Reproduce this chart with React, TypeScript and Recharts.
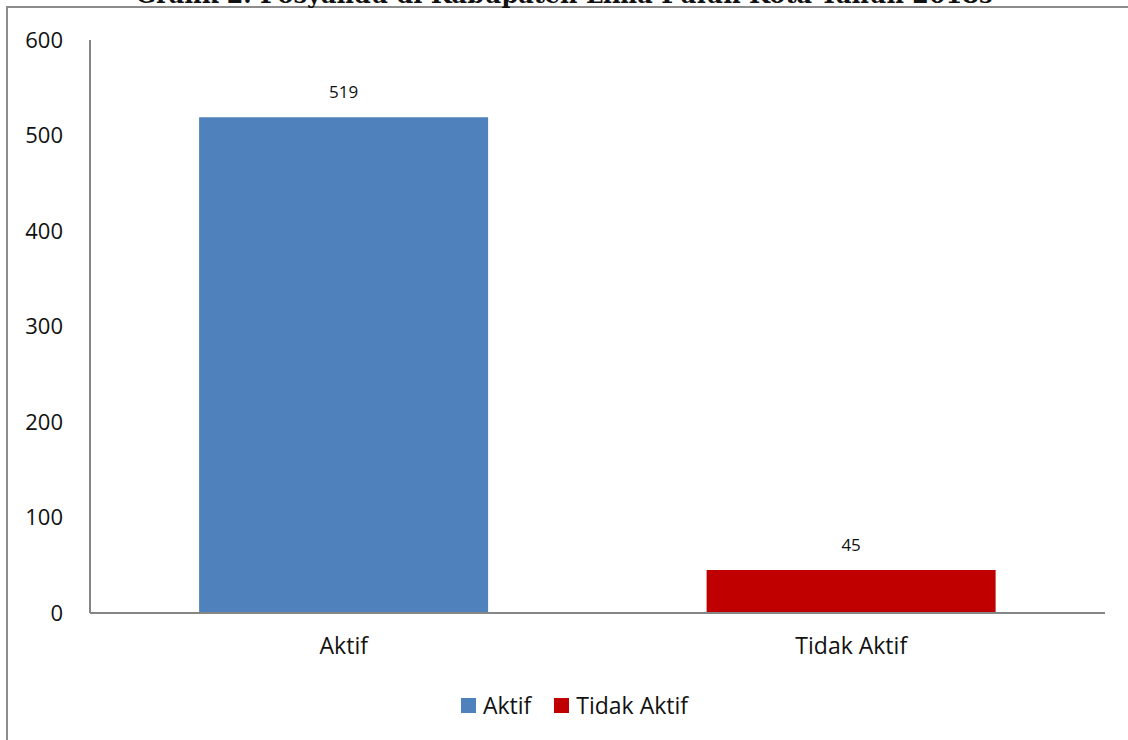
import React from "react";
import { BarChart, Bar, XAxis, YAxis, Legend, LabelList, Cell } from "recharts";

const categories = ["Aktif", "Tidak Aktif"];
const values = [519, 45];
const colors = ["#4F81BD", "#C00000"];
const yTicks = [0, 100, 200, 300, 400, 500, 600];

const data = categories.map((name, i) => ({ name, value: values[i] }));

const FONT = "'Open Sans', 'Noto Sans', sans-serif";

function renderLegend() {
  return (
    <div style={{ display: "flex", justifyContent: "center", alignItems: "center", height: 50, paddingLeft: 14, fontFamily: FONT, fontSize: 23, color: "#111" }}>
      {categories.map((c, i) => (
        <div key={c} style={{ display: "flex", alignItems: "center", marginRight: i === 0 ? 23 : 0 }}>
          <span style={{ width: 15, height: 15, background: colors[i], display: "inline-block", marginRight: 7 }} />
          <span>{c}</span>
        </div>
      ))}
    </div>
  );
}

export default function App() {
  return (
    <div style={{ position: "absolute", left: 0, top: 0, width: 1128, height: 740, overflow: "hidden", background: "#fff" }}>
      <div style={{ position: "absolute", left: 0, top: 0 }}>
        <BarChart width={1128} height={740} data={data} margin={{ top: 40, right: 23, left: 30, bottom: 10 }} barCategoryGap="21.5%">
          <XAxis
            dataKey="name"
            height={67}
            tickSize={0}
            tickMargin={25}
            axisLine={{ stroke: "#868686", strokeWidth: 2 }}
            tick={{ fill: "#111", fontSize: 23, fontFamily: FONT }}
          />
          <YAxis
            width={60}
            domain={[0, 600]}
            ticks={yTicks}
            tickSize={0}
            tickMargin={27}
            axisLine={{ stroke: "#868686", strokeWidth: 2 }}
            tick={{ fill: "#111", fontSize: 22, fontFamily: FONT }}
          />
          <Legend verticalAlign="bottom" height={50} content={renderLegend} />
          <Bar dataKey="value" isAnimationActive={false}>
            {data.map((d, i) => (
              <Cell key={d.name} fill={colors[i]} />
            ))}
            <LabelList dataKey="value" position="top" offset={19} style={{ fill: "#111", fontSize: 17, fontFamily: FONT }} />
          </Bar>
        </BarChart>
      </div>
      <div
        style={{
          position: "absolute",
          left: 6,
          top: 6,
          width: 1200,
          height: 800,
          borderLeft: "2px solid #8c8c8c",
          borderTop: "2px solid #8c8c8c",
          zIndex: 2,
          pointerEvents: "none",
        }}
      />
      <div
        style={{
          position: "absolute",
          top: -17,
          left: 0,
          width: 1128,
          textAlign: "center",
          fontFamily: "'DejaVu Serif', serif",
          fontWeight: "bold",
          fontSize: 24,
          lineHeight: "24px",
          color: "#111",
          whiteSpace: "nowrap",
          zIndex: 3,
        }}
      >
        Grafik 2. Posyandu di Kabupaten Lima Puluh Kota Tahun 2018s
      </div>
    </div>
  );
}
